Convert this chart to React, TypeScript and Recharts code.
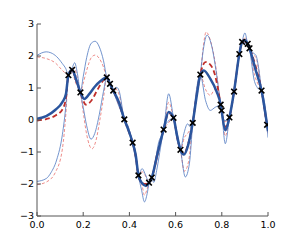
import { ComposedChart, Line, Scatter, XAxis, YAxis } from "recharts";

const xTicks = [0, 0.2, 0.4, 0.6, 0.8, 1.0];
const yTicks = [-3, -2, -1, 0, 1, 2, 3];

// observations (black crosses)
const obsX = [0.136, 0.152, 0.188, 0.302, 0.316, 0.33, 0.378, 0.414, 0.439, 0.485, 0.497, 0.548, 0.591, 0.621, 0.674, 0.707, 0.795, 0.799, 0.833, 0.853, 0.876, 0.888, 0.912, 0.92, 0.972, 0.996];
const obsY = [1.4, 1.57, 0.86, 1.33, 1.13, 0.92, 0.02, -0.71, -1.73, -1.96, -1.8, -0.3, 0.07, -0.93, -0.09, 1.42, 0.48, 0.3, 0.08, 0.89, 2.06, 2.44, 2.38, 2.24, 0.92, -0.15];

// thick blue: prediction
const meanPts = [
  [0, 0.04], [0.04, 0.12], [0.08, 0.32], [0.11, 0.56], [0.125, 0.8], [0.136, 1.4], [0.152, 1.57], [0.17, 1.25],
  [0.188, 0.86], [0.205, 0.66], [0.225, 0.8], [0.25, 1.04], [0.275, 1.22], [0.302, 1.33], [0.316, 1.13], [0.33, 0.92],
  [0.355, 0.55], [0.378, 0.02], [0.395, -0.3], [0.414, -0.71], [0.428, -1.12], [0.439, -1.73], [0.455, -1.98], [0.472, -2.06],
  [0.485, -1.96], [0.497, -1.8], [0.52, -1.1], [0.548, -0.3], [0.57, 0.25], [0.591, 0.07], [0.606, -0.48], [0.621, -0.93],
  [0.636, -1.08], [0.654, -0.79], [0.674, -0.09], [0.692, 0.78], [0.707, 1.42], [0.722, 1.55], [0.75, 1.29], [0.778, 0.88],
  [0.795, 0.48], [0.799, 0.3], [0.815, -0.32], [0.833, 0.08], [0.853, 0.89], [0.876, 2.06], [0.888, 2.44], [0.9, 2.49],
  [0.912, 2.38], [0.92, 2.24], [0.945, 1.6], [0.972, 0.92], [0.996, -0.15], [1, -0.35],
];
const upperPts = [
  [0, 2.02], [0.04, 2.13], [0.06, 2.1], [0.085, 1.98], [0.11, 1.76], [0.125, 1.6], [0.136, 1.4], [0.145, 1.52], [0.152, 1.62],
  [0.163, 1.79], [0.175, 1.45], [0.188, 0.88], [0.2, 1.35], [0.215, 1.95], [0.235, 2.4], [0.252, 2.46], [0.27, 2.28],
  [0.288, 1.85], [0.302, 1.33], [0.316, 1.14], [0.33, 0.94], [0.345, 1.02], [0.355, 0.92], [0.378, 0.03], [0.395, -0.2],
  [0.414, -0.7], [0.428, -1.05], [0.439, -1.72], [0.455, -1.52], [0.47, -1.72], [0.485, -1.95], [0.497, -1.79], [0.51, -1.4],
  [0.525, -0.75], [0.548, -0.29], [0.57, 0.82], [0.591, 0.08], [0.606, -0.38], [0.621, -0.92], [0.636, -0.42], [0.652, -0.12],
  [0.664, -0.22], [0.674, -0.08], [0.692, 0.88], [0.707, 1.43], [0.72, 2.2], [0.736, 2.65], [0.755, 2.35], [0.775, 1.55],
  [0.795, 0.49], [0.799, 0.31], [0.813, -0.02], [0.833, 0.09], [0.853, 0.9], [0.876, 2.07], [0.888, 2.45], [0.9, 2.72],
  [0.912, 2.39], [0.92, 2.25], [0.935, 2.1], [0.948, 2.02], [0.96, 1.6], [0.972, 0.93], [0.996, -0.14], [1, -0.18],
];
const lowerPts = [
  [0, -1.92], [0.04, -1.83], [0.06, -1.65], [0.085, -1.25], [0.11, -0.45], [0.125, 0.45], [0.136, 1.4], [0.145, 1.45],
  [0.152, 1.55], [0.165, 1.28], [0.188, 0.84], [0.2, 0.4], [0.215, -0.18], [0.234, -0.6], [0.25, -0.42], [0.27, 0.18],
  [0.288, 0.9], [0.302, 1.32], [0.316, 1.11], [0.33, 0.89], [0.355, 0.42], [0.378, 0], [0.414, -0.73], [0.439, -1.75],
  [0.453, -2.2], [0.465, -2.56], [0.477, -2.3], [0.485, -1.98], [0.497, -1.82], [0.505, -1.95], [0.52, -1.5], [0.535, -0.85],
  [0.548, -0.32], [0.566, -0.05], [0.591, 0.05], [0.606, -0.62], [0.621, -0.95], [0.642, -1.78], [0.66, -1.35], [0.674, -0.12],
  [0.707, 1.4], [0.73, 0.6], [0.75, 0.3], [0.772, 0.4], [0.795, 0.46], [0.799, 0.28], [0.815, -0.74], [0.833, 0.06],
  [0.853, 0.87], [0.876, 2.04], [0.888, 2.42], [0.9, 2.4], [0.912, 2.36], [0.92, 2.2], [0.94, 1.25], [0.955, 1.0],
  [0.972, 0.9], [0.996, -0.17], [1, -0.55],
];

// red dashed: second model
const mean2Pts = [
  [0, -0.02], [0.04, 0.03], [0.08, 0.14], [0.11, 0.33], [0.125, 0.68], [0.136, 1.4], [0.152, 1.57], [0.17, 1.22],
  [0.188, 0.86], [0.212, 0.48], [0.235, 0.6], [0.26, 0.92], [0.285, 1.22], [0.302, 1.33], [0.316, 1.13], [0.33, 0.92],
  [0.355, 0.52], [0.378, 0.02], [0.395, -0.32], [0.414, -0.71], [0.428, -1.15], [0.439, -1.73], [0.455, -1.96], [0.47, -2.0],
  [0.485, -1.96], [0.497, -1.8], [0.52, -1.1], [0.548, -0.3], [0.57, 0.22], [0.591, 0.07], [0.606, -0.5], [0.621, -0.93],
  [0.636, -1.05], [0.654, -0.75], [0.674, -0.09], [0.692, 0.8], [0.707, 1.42], [0.729, 1.81], [0.75, 1.73], [0.77, 1.42],
  [0.782, 1.03], [0.795, 0.48], [0.799, 0.3], [0.815, -0.22], [0.833, 0.08], [0.853, 0.89], [0.876, 2.06], [0.888, 2.44],
  [0.9, 2.5], [0.912, 2.38], [0.92, 2.24], [0.945, 1.72], [0.972, 0.92], [0.996, -0.15], [1, -0.3],
];
const upper2Pts = [
  [0, 1.97], [0.04, 1.92], [0.08, 1.78], [0.11, 1.55], [0.125, 1.45], [0.136, 1.4], [0.145, 1.5], [0.152, 1.6], [0.163, 1.62],
  [0.175, 1.3], [0.188, 0.88], [0.2, 1.15], [0.215, 1.55], [0.235, 1.95], [0.252, 2.03], [0.27, 1.92], [0.288, 1.65],
  [0.302, 1.33], [0.316, 1.13], [0.33, 0.93], [0.345, 0.95], [0.355, 0.8], [0.378, 0.02], [0.395, -0.22], [0.414, -0.7],
  [0.428, -1.08], [0.439, -1.73], [0.455, -1.62], [0.47, -1.75], [0.485, -1.96], [0.497, -1.8], [0.52, -0.98], [0.548, -0.3],
  [0.57, 0.55], [0.591, 0.07], [0.606, -0.42], [0.621, -0.93], [0.638, -0.55], [0.654, -0.4], [0.674, -0.09], [0.692, 0.85],
  [0.707, 1.42], [0.72, 2.3], [0.732, 2.75], [0.75, 2.5], [0.77, 1.85], [0.795, 0.48], [0.799, 0.3], [0.815, -0.05],
  [0.833, 0.08], [0.853, 0.89], [0.876, 2.06], [0.888, 2.44], [0.9, 2.58], [0.912, 2.38], [0.92, 2.24], [0.935, 2.05],
  [0.948, 1.95], [0.96, 1.55], [0.972, 0.92], [0.996, -0.15], [1, -0.25],
];
const lower2Pts = [
  [0, -2.02], [0.04, -1.94], [0.08, -1.63], [0.11, -0.9], [0.125, 0.2], [0.136, 1.4], [0.145, 1.45], [0.152, 1.55],
  [0.165, 1.2], [0.188, 0.84], [0.2, 0.25], [0.215, -0.45], [0.238, -0.9], [0.255, -0.65], [0.272, 0], [0.288, 0.7],
  [0.302, 1.33], [0.316, 1.12], [0.33, 0.9], [0.355, 0.45], [0.378, 0.01], [0.414, -0.72], [0.439, -1.74], [0.455, -2.05],
  [0.465, -2.35], [0.475, -2.2], [0.485, -1.97], [0.497, -1.81], [0.52, -1.25], [0.548, -0.31], [0.568, -0.1], [0.591, 0.06],
  [0.606, -0.6], [0.621, -0.94], [0.638, -1.6], [0.656, -1.3], [0.674, -0.1], [0.707, 1.41], [0.73, 0.95], [0.75, 0.77],
  [0.77, 0.95], [0.795, 0.47], [0.799, 0.29], [0.815, -0.5], [0.833, 0.07], [0.853, 0.88], [0.876, 2.05], [0.888, 2.43],
  [0.9, 2.42], [0.912, 2.37], [0.92, 2.22], [0.94, 1.45], [0.955, 1.15], [0.972, 0.91], [0.996, -0.16], [1, -0.45],
];

const rows = (pts: number[][]) => pts.map(([x, y]) => ({ x, y }));
const obs = obsX.map((x, i) => ({ x, y: obsY[i] }));

const FRAME = "#555";
const FONT = "DejaVu Sans";
const TL = 4;

const fmtY = (v: number) => (v < 0 ? "\u2212" + Math.abs(v) : String(v));

function BottomTick({ x, y, payload }: any) {
  return (
    <g>
      <line x1={x} y1={y} x2={x} y2={y - TL} stroke={FRAME} />
      <text x={x} y={y + 12} textAnchor="middle" fontSize={9.5} fontFamily={FONT} fill="#000">
        {Number(payload.value).toFixed(1)}
      </text>
    </g>
  );
}
function LeftTick({ x, y, payload }: any) {
  return (
    <g>
      <line x1={x} y1={y} x2={x + TL} y2={y} stroke={FRAME} />
      <text x={x - 3} y={y} dy="0.33em" textAnchor="end" fontSize={9.5} fontFamily={FONT} fill="#000">
        {fmtY(payload.value)}
      </text>
    </g>
  );
}
function TopTick({ x, y }: any) {
  return <line x1={x} y1={y} x2={x} y2={y + TL} stroke={FRAME} />;
}
function RightTick({ x, y }: any) {
  return <line x1={x} y1={y} x2={x - TL} y2={y} stroke={FRAME} />;
}

function XMark({ cx, cy }: any) {
  const s = 2.8;
  return (
    <g stroke="#000" strokeWidth={1.6}>
      <line x1={cx - s} y1={cy - s} x2={cx + s} y2={cy + s} />
      <line x1={cx - s} y1={cy + s} x2={cx + s} y2={cy - s} />
    </g>
  );
}

export default function App() {
  return (
    <div style={{ position: "absolute", left: 0, top: 0 }}>
      <ComposedChart width={299} height={241} margin={{ top: 24, right: 31, bottom: 5, left: 0 }}>
        <XAxis dataKey="x" type="number" domain={[0, 1]} ticks={xTicks} interval={0} height={20}
          axisLine={{ stroke: FRAME }} tickLine={false} tickSize={0} tickMargin={0} tick={<BottomTick />} allowDataOverflow />
        <XAxis xAxisId="top" orientation="top" dataKey="x" type="number" domain={[0, 1]} ticks={xTicks} interval={0} height={0}
          axisLine={{ stroke: FRAME }} tickLine={false} tickSize={0} tickMargin={0} tick={<TopTick />} />
        <YAxis dataKey="y" type="number" domain={[-3, 3]} ticks={yTicks} interval={0} width={37}
          axisLine={{ stroke: FRAME }} tickLine={false} tickSize={0} tickMargin={0} tick={<LeftTick />} allowDataOverflow />
        <YAxis yAxisId="right" orientation="right" type="number" domain={[-3, 3]} ticks={yTicks} interval={0} width={0}
          axisLine={{ stroke: FRAME }} tickLine={false} tickSize={0} tickMargin={0} tick={<RightTick />} />

        <Line data={rows(upper2Pts)} dataKey="y" type="monotone" stroke="#e8706c" strokeWidth={0.8} strokeDasharray="3 2" dot={false} isAnimationActive={false} />
        <Line data={rows(lower2Pts)} dataKey="y" type="monotone" stroke="#e8706c" strokeWidth={0.8} strokeDasharray="3 2" dot={false} isAnimationActive={false} />
        <Line data={rows(upperPts)} dataKey="y" type="monotone" stroke="#4f78c0" strokeWidth={0.8} dot={false} isAnimationActive={false} />
        <Line data={rows(lowerPts)} dataKey="y" type="monotone" stroke="#4f78c0" strokeWidth={0.8} dot={false} isAnimationActive={false} />
        <Line data={rows(mean2Pts)} dataKey="y" type="monotone" stroke="#c0302c" strokeWidth={1.8} strokeDasharray="5 3" dot={false} isAnimationActive={false} />
        <Line data={rows(meanPts)} dataKey="y" type="monotone" stroke="#2a559e" strokeWidth={2.5} dot={false} isAnimationActive={false} />
        <Scatter data={obs} dataKey="y" shape={<XMark />} isAnimationActive={false} />
      </ComposedChart>
    </div>
  );
}
